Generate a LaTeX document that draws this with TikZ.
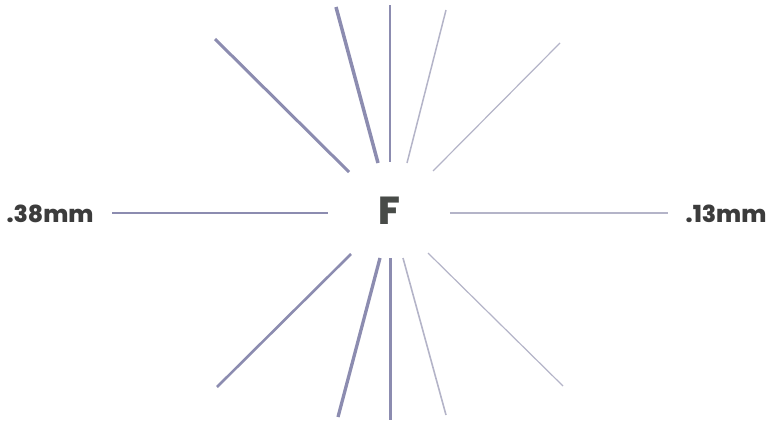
\documentclass[tikz,border=0pt]{standalone}
\usepackage{fontspec}
\setmainfont{Poppins}[BoldFont={Poppins ExtraBold}]
\definecolor{ray}{HTML}{8C8CB0}
\definecolor{rayl}{HTML}{B4B4C8}
\definecolor{txt}{HTML}{3C3C3C}
\definecolor{ftxt}{HTML}{484B48}
\begin{document}
\begin{tikzpicture}[x=1pt,y=-1pt,
  raystyle/.style={draw=ray,line cap=butt},
  lbl/.style={font=\fontsize{23.5}{24}\selectfont\bfseries,text=txt,inner sep=0pt}]
\useasboundingbox (0,0) rectangle (775,423);
\node[font=\fontsize{39}{39}\selectfont\bfseries,text=ftxt,inner sep=0pt] (c) at (389.5,211) {F};
\node[lbl] (l) at (50,214) {.38mm};
\node[lbl] (r) at (726,214) {.13mm};
% endpoints
\foreach \n/\x/\y in {a1/215/39,b1/349/172,a2/336/7,b2/378/163,a3/390/5,b3/390/162,
  a4/446/10,b4/407/163,a5/560/43,b5/433/171,
  a6/351/254,b6/217/387,a7/380/258,b7/338/417,a8/390/258,b8/390/420,
  a9/403/258,b9/446/415,a10/428/253,b10/563/386,
  hl1/112/213,hl2/328/213,hr1/450/213,hr2/668/213}
  \coordinate (\n) at (\x,\y);
\draw[raystyle,line width=3pt] (a1) -- (b1);
\draw[raystyle,line width=3.5pt] (a2) -- (b2);
\draw[raystyle,line width=1.5pt] (a3) -- (b3);
\draw[raystyle,draw=rayl,line width=1.5pt] (a4) -- (b4);
\draw[raystyle,draw=rayl,line width=1.2pt] (a5) -- (b5);
\draw[raystyle,line width=2.6pt] (a6) -- (b6);
\draw[raystyle,line width=3.3pt] (a7) -- (b7);
\draw[raystyle,line width=3pt] (a8) -- (b8);
\draw[raystyle,draw=rayl,line width=1.6pt] (a9) -- (b9);
\draw[raystyle,draw=rayl,line width=1.2pt] (a10) -- (b10);
\draw[raystyle,line width=2pt] (hl1) -- (hl2);
\draw[raystyle,draw=rayl,line width=1.2pt] (hr1) -- (hr2);
\end{tikzpicture}
\end{document}
